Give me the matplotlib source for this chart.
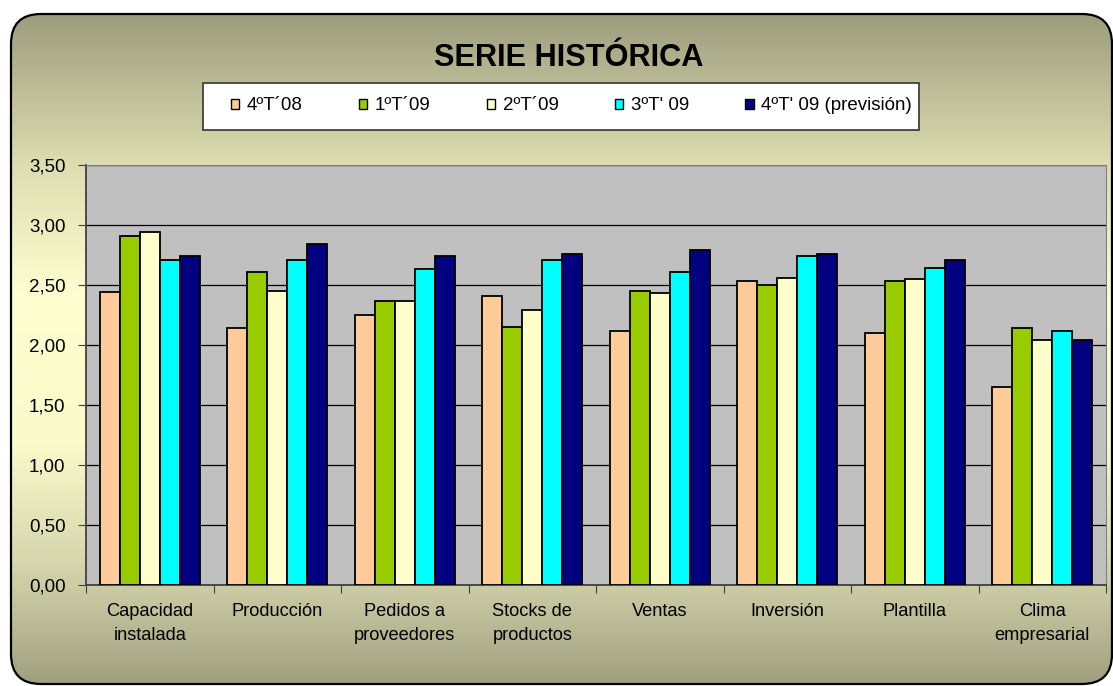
"""Serie histórica: grouped bar chart of business survey indicators."""

import numpy as np
import matplotlib.pyplot as plt
from matplotlib import font_manager
from matplotlib.patches import FancyBboxPatch, Patch, Rectangle
from matplotlib.ticker import FuncFormatter, FixedLocator

# The original uses Arial Narrow; use the Liberation clone if it is there
installed = {f.name for f in font_manager.fontManager.ttflist}
if "Liberation Sans Narrow" in installed:
    FAMILY = ["Liberation Sans Narrow", "DejaVu Sans"]
    SCALE = 1.0
else:
    FAMILY = ["Liberation Sans", "DejaVu Sans"]
    SCALE = 0.82
plt.rcParams["font.family"] = FAMILY

# Data
categories = [
    "Capacidad\ninstalada",
    "Producción",
    "Pedidos a\nproveedores",
    "Stocks de\nproductos",
    "Ventas",
    "Inversión",
    "Plantilla",
    "Clima\nempresarial",
]
series_names = ["4ºT´08", "1ºT´09", "2ºT´09", "3ºT' 09", "4ºT' 09 (previsión)"]
t4_08 = [2.44, 2.14, 2.25, 2.41, 2.12, 2.53, 2.10, 1.65]
t1_09 = [2.91, 2.61, 2.37, 2.15, 2.45, 2.50, 2.53, 2.14]
t2_09 = [2.94, 2.45, 2.37, 2.29, 2.43, 2.56, 2.55, 2.04]
t3_09 = [2.71, 2.71, 2.63, 2.71, 2.61, 2.74, 2.64, 2.12]
t4_09 = [2.74, 2.84, 2.74, 2.76, 2.79, 2.76, 2.71, 2.04]
y_ticks = [0.0, 0.5, 1.0, 1.5, 2.0, 2.5, 3.0, 3.5]

bar_colors = ["#FFCC99", "#99CC00", "#FFFFCC", "#00FFFF", "#000080"]

W, H = 1113, 686


def fs(size):
    """Font size, shrunk when we fall back to the wide font"""
    return size * SCALE


def draw_background(fig):
    """Rounded frame with a vertical olive/cream gradient"""
    bg = fig.add_axes([0, 0, 1, 1])
    bg.axis("off")
    bg.set_zorder(0)

    # gradient stops (fraction of height, colour)
    stops = [0.0, 0.22, 0.42, 0.64, 0.82, 1.0]
    cols = ["#9d9d7e", "#dcdcb0", "#fefed0", "#fafacb", "#d6d6ad", "#a0a080"]
    rgb = np.array([[int(c[i:i + 2], 16) / 255 for i in (1, 3, 5)] for c in cols])
    t = np.linspace(0, 1, 400)
    grad = np.stack([np.interp(t, stops, rgb[:, k]) for k in range(3)], axis=-1)
    grad = np.repeat(grad[:, None, :], 2, axis=1)

    frame = FancyBboxPatch(
        (11, 14), W - 12, H - 16,
        boxstyle="round,pad=0,rounding_size=30",
        facecolor="none", edgecolor="black", linewidth=1.6,
    )
    img = bg.imshow(grad, extent=(11, W, H - 2, 14), aspect="auto",
                    interpolation="bilinear")
    bg.add_patch(frame)
    img.set_clip_path(frame)
    bg.set_xlim(0, W)
    bg.set_ylim(H, 0)

    # legend box
    bg.add_patch(Rectangle((203, 83), 716, 47, facecolor="white",
                           edgecolor="#404040", linewidth=1.3))


fig = plt.figure(figsize=(W / 100, H / 100), dpi=100)
fig.patch.set_facecolor("white")
draw_background(fig)

ax = fig.add_axes([86 / W, 1 - 585 / H, (1106 - 86) / W, (585 - 165) / H])
ax.set_zorder(1)
ax.set_facecolor("#C0C0C0")

x = np.arange(len(categories))
all_series = [t4_08, t1_09, t2_09, t3_09, t4_09]
bar_w = 0.157
for i, (vals, col) in enumerate(zip(all_series, bar_colors)):
    offs = (i - 2) * bar_w
    ax.bar(x + 0.5 + offs, vals, width=bar_w, color=col,
           edgecolor="black", linewidth=1.3, zorder=3)

ax.set_xlim(0, len(categories))
ax.set_ylim(0, 3.5)
ax.set_yticks(y_ticks)
ax.yaxis.set_major_formatter(FuncFormatter(lambda v, p: f"{v:.2f}".replace(".", ",")))
ax.grid(axis="y", color="black", linewidth=0.9, zorder=1)
ax.tick_params(axis="y", direction="out", length=5.8, pad=9,
               labelsize=fs(16.5), color="#404040")

# ticks on category boundaries, labels at centres
ax.xaxis.set_major_locator(FixedLocator(np.arange(len(categories) + 1)))
ax.xaxis.set_minor_locator(FixedLocator(x + 0.5))
ax.set_xticklabels([], minor=False)
ax.set_xticklabels(categories, minor=True, linespacing=1.5)
ax.tick_params(axis="x", which="major", direction="out", length=5.8,
               color="#404040")
ax.tick_params(axis="x", which="minor", length=0, pad=13, labelsize=fs(16))

for side in ["top", "right"]:
    ax.spines[side].set_color("#808080")
for side in ["left", "bottom"]:
    ax.spines[side].set_color("#404040")
    ax.spines[side].set_linewidth(1.3)

fig.text(569 / W, 1 - 58 / H, "SERIE HISTÓRICA", ha="center", va="center",
         fontsize=fs(27), fontweight="bold")

handles = [Patch(facecolor=c, edgecolor="black", linewidth=1.0)
           for c in bar_colors]
fig.legend(
    handles, series_names, ncol=5, loc="center left",
    bbox_to_anchor=(231 / W, 1 - 106 / H),
    fontsize=fs(16.5), frameon=False,
    handlelength=0.44, handleheight=0.44, handletextpad=0.4,
    columnspacing=3.0, borderpad=0, borderaxespad=0,
)

fig.savefig("out.png", dpi=100)
